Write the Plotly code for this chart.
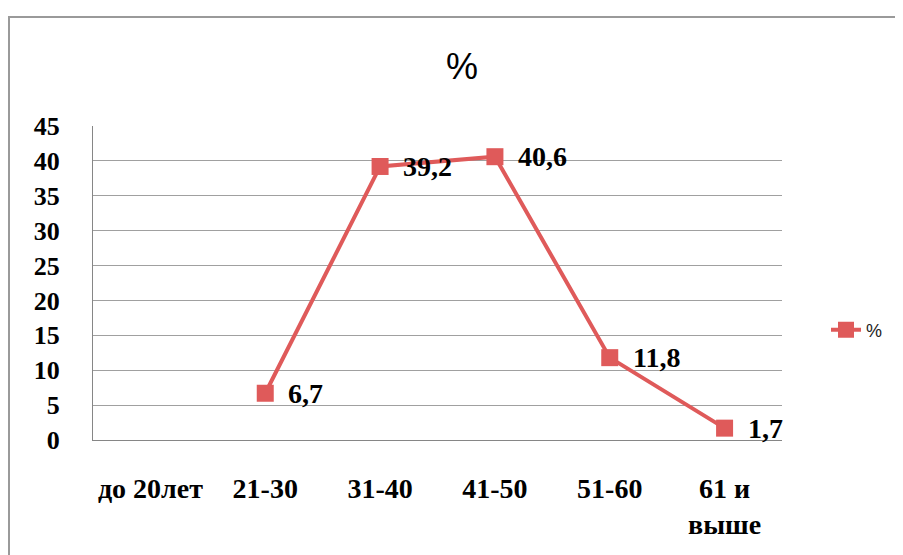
import plotly.graph_objects as go

categories = ["до 20лет", "21-30", "31-40", "41-50", "51-60", "61 и<br>выше"]
values = [None, 6.7, 39.2, 40.6, 11.8, 1.7]
series_name = "%"
y_ticks = [0, 5, 10, 15, 20, 25, 30, 35, 40, 45]

labels = ["" if v is None else f"{v:.1f}".replace(".", ",") for v in values]

OFF = 8  # body margin of the page
W, H = 903 - OFF, 555 - OFF
L, T = 93 - OFF, 126 - OFF
R = W - (782 - OFF)
B = H - (440 - OFF)
pw, ph = W - L - R, H - T - B

RED = "#DF5A5A"
SERIF = "Liberation Serif"
SANS = "Liberation Sans"

fig = go.Figure()
fig.add_trace(go.Scatter(
    x=categories, y=values, name=series_name,
    mode="lines+markers",
    line=dict(color=RED, width=4),
    marker=dict(symbol="square", size=17, color=RED),
    connectgaps=False,
))

for c, v, t in zip(categories, values, labels):
    if v is None:
        continue
    fig.add_annotation(x=c, y=v, text=f"<b>{t}</b>", showarrow=False,
                       xanchor="left", yanchor="middle", xshift=21, yshift=0,
                       font=dict(family=SERIF, size=28, color="black"))

fig.update_layout(
    width=W, height=H,
    margin=dict(l=L, r=R, t=T, b=B),
    paper_bgcolor="white", plot_bgcolor="white",
    font=dict(family=SERIF, size=26, color="black", weight="bold"),
    title=dict(text="%", x=(462 - 93) / pw, xref="paper", xanchor="center",
               y=1 - (66 - OFF) / H, yanchor="middle",
               font=dict(family=SANS, size=36, color="black", weight="normal")),
    showlegend=True,
    legend=dict(x=1 + (826 - 782) / pw, xanchor="left", y=1 - (330 - 126) / ph, yanchor="middle",
                font=dict(family=SANS, size=18, color="#222222", weight="normal"),
                bgcolor="rgba(0,0,0,0)"),
    xaxis=dict(type="category", range=[-0.5, 5.5], showgrid=False,
               showline=True, linecolor="#868686", linewidth=1,
               ticks="", tickfont=dict(family=SERIF, size=28, color="black", weight="bold"),
               ticklabelstandoff=23),
    yaxis=dict(range=[0, 45], tickvals=y_ticks, ticktext=[str(v) for v in y_ticks],
               showgrid=True, gridcolor="#A0A0A0", gridwidth=1,
               showline=True, linecolor="#868686", linewidth=1, zeroline=False,
               ticks="", tickfont=dict(family=SERIF, size=26, color="black", weight="bold"),
               ticklabelstandoff=27),
    shapes=[dict(type="rect", xref="paper", yref="paper",
                 x0=(9 - 93) / pw, x1=(W + 40 - L) / pw,
                 y0=-(H + 40 - T - ph) / ph, y1=1 + (126 - 17) / ph,
                 line=dict(color="#9A9A9A", width=2), fillcolor="rgba(0,0,0,0)", layer="below")],
)

fig.write_html("out.html")
